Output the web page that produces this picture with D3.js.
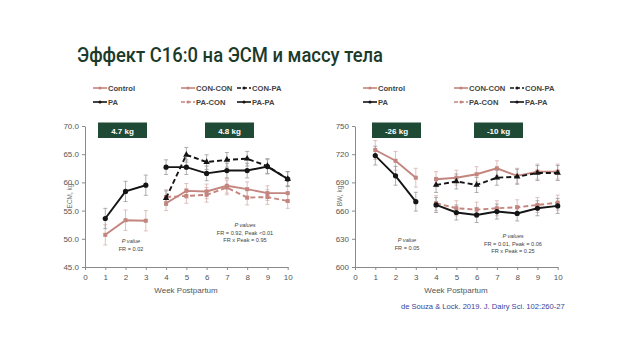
<!DOCTYPE html>
<html><head><meta charset="utf-8">
<script src="https://cdn.jsdelivr.net/npm/d3@7/dist/d3.min.js"></script>
<style>body{margin:0;background:#fff}svg{display:block}</style>
</head><body>
<svg id="c" width="640" height="360"></svg>
<script>
const weeksPre = [1, 2, 3];
const weeksPost = [4, 5, 6, 7, 8, 9, 10];
const xTicks = [0,1,2,3,4,5,6,7,8,9,10];

// ECM (kg)
const ecmTicks = [45, 50, 55, 60, 65, 70];
const ecmControl = [50.7, 53.3, 53.2];
const ecmPA = [53.6, 58.4, 59.5];
const ecmConCon = [56.3, 58.5, 58.4, 59.4, 58.8, 58.1, 58.1];
const ecmConPA = [57.2, 64.9, 63.6, 64.0, 64.2, 62.9, 60.6];
const ecmPACon = [57.4, 57.6, 57.8, 59.1, 57.3, 57.4, 56.7];
const ecmPAPA = [62.7, 62.7, 61.6, 62.1, 62.1, 62.8, 60.6];
const ecmErrPre = [1.8, 1.8, 1.8];
const ecmErrPost = [1.3, 1.3, 1.3, 1.3, 1.3, 1.3, 1.3];

// BW (kg)
const bwTicks = [600, 630, 660, 690, 720, 750];
const bwControl = [724.5, 713, 695];
const bwPA = [718.5, 697, 669.5];
const bwConCon = [693.4, 695, 698.7, 705, 697, 701.5, 701.5];
const bwConPA = [687.3, 691, 687.3, 695, 696, 700, 700];
const bwPACon = [668, 662.5, 661, 662.5, 663.5, 666, 668.5];
const bwPAPA = [666, 658, 655.4, 659, 657, 662.5, 665];
const bwErrPre = [10, 10, 10];
const bwErrPost = [8, 8, 8, 8, 8, 8, 8];

const labels = ["Control", "PA", "CON-CON", "CON-PA", "PA-CON", "PA-PA"];

const svg = d3.select("#c");
const PINK = "#c4857f", BLACK = "#151515", GREEN = "#1f4a35";

svg.append("text").attr("x", 77).attr("y", 62).attr("textLength", 306).attr("lengthAdjust","spacingAndGlyphs")
  .attr("font-family","Roboto, sans-serif").attr("font-weight",500).attr("font-size",21)
  .attr("fill","#1c3a2a").text("Эффект C16:0 на ЭСМ и массу тела");

function panel(o) {
  const g = svg.append("g");
  const x = d3.scaleLinear().domain([0,10]).range([o.x0, o.x0 + 202.7]);
  const y = d3.scaleLinear().domain(o.domain).range([267, 126]);
  const ax = g.append("g").attr("transform", `translate(0,267)`)
    .call(d3.axisBottom(x).tickValues(xTicks).tickSize(3).tickSizeOuter(0));
  const ay = g.append("g").attr("transform", `translate(${o.x0},0)`)
    .call(d3.axisLeft(y).tickValues(o.ticks).tickSize(3).tickSizeOuter(0).tickFormat(o.fmt));
  [ax, ay].forEach(a => {
    a.selectAll("path,line").attr("stroke","#8a8a8a");
    a.selectAll("text").attr("fill","#555").attr("font-family","Liberation Sans, Arial, sans-serif").attr("font-size",8);
  });
  ax.selectAll("text").attr("dy","0.9em");
  g.append("text").attr("transform",`translate(${o.x0-13},196) rotate(-90)`).attr("text-anchor","middle")
    .attr("font-family","Liberation Sans, Arial, sans-serif").attr("font-size",6.5).attr("fill","#777").text(o.ylab);
  g.append("text").attr("x", o.x0 + 101).attr("y", 293).attr("text-anchor","middle")
    .attr("font-family","Liberation Sans, Arial, sans-serif").attr("font-size",8).attr("fill","#555").text("Week Postpartum");

  const series = [
    {w: weeksPost, v: o.conCon, e: o.errPost, c: PINK, dash: null, m: "sq"},
    {w: weeksPost, v: o.paCon, e: o.errPost, c: PINK, dash: "5,3", m: "sq"},
    {w: weeksPost, v: o.conPA, e: o.errPost, c: BLACK, dash: "5,3", m: "tri"},
    {w: weeksPost, v: o.paPA, e: o.errPost, c: BLACK, dash: null, m: "dot"},
    {w: weeksPre, v: o.control, e: o.errPre, c: PINK, dash: null, m: "sq"},
    {w: weeksPre, v: o.pa, e: o.errPre, c: BLACK, dash: null, m: "dot"},
  ];
  const line = d3.line().x(d => x(d[0])).y(d => y(d[1]));
  series.forEach(s => {
    const pts = s.w.map((w,i) => [w, s.v[i], s.e[i]]);
    const ec = s.c === PINK ? "#d6b2ae" : "#9a9a9a";
    pts.forEach(p => {
      g.append("line").attr("x1",x(p[0])).attr("x2",x(p[0])).attr("y1",y(p[1]-p[2])).attr("y2",y(p[1]+p[2])).attr("stroke",ec).attr("stroke-width",0.8);
      [p[1]-p[2], p[1]+p[2]].forEach(v => g.append("line").attr("x1",x(p[0])-2).attr("x2",x(p[0])+2).attr("y1",y(v)).attr("y2",y(v)).attr("stroke",ec).attr("stroke-width",0.8));
    });
  });
  series.forEach(s => {
    const pts = s.w.map((w,i) => [w, s.v[i]]);
    g.append("path").attr("d", line(pts)).attr("fill","none").attr("stroke", s.c).attr("stroke-width",1.9)
      .attr("stroke-dasharray", s.dash);
    pts.forEach(p => {
      const cx = x(p[0]), cy = y(p[1]);
      if (s.m === "dot") g.append("circle").attr("cx",cx).attr("cy",cy).attr("r",2.6).attr("fill",s.c);
      else if (s.m === "tri") g.append("path").attr("d", d3.symbol(d3.symbolTriangle, 18)()).attr("transform",`translate(${cx},${cy})`).attr("fill",s.c);
      else g.append("rect").attr("x",cx-2).attr("y",cy-2).attr("width",4).attr("height",4).attr("fill",s.c);
    });
  });

  // legend
  const lg = [
    {t: labels[0], x: o.x0 + 8, y: 91, c: PINK, dash: null},
    {t: labels[1], x: o.x0 + 8, y: 105, c: BLACK, dash: null},
    {t: labels[2], x: o.lx2, y: 91, c: PINK, dash: null},
    {t: labels[3], x: o.lx2 + 56, y: 91, c: BLACK, dash: "4,2"},
    {t: labels[4], x: o.lx2, y: 105, c: PINK, dash: "4,2"},
    {t: labels[5], x: o.lx2 + 56, y: 105, c: BLACK, dash: null},
  ];
  lg.forEach(l => {
    g.append("line").attr("x1",l.x).attr("x2",l.x+14).attr("y1",l.y-3).attr("y2",l.y-3).attr("stroke",l.c).attr("stroke-width",1.6).attr("stroke-dasharray",l.dash);
    g.append("circle").attr("cx",l.x+7).attr("cy",l.y-3).attr("r",1.6).attr("fill",l.c);
    g.append("text").attr("x",l.x+15).attr("y",l.y).attr("font-family","Liberation Sans, Arial, sans-serif").attr("font-size",7.6).attr("font-weight","bold").attr("fill","#444").text(l.t);
  });

  // boxes
  o.boxes.forEach(b => {
    g.append("rect").attr("x",b.x).attr("y",122.5).attr("width",49).attr("height",15.5).attr("fill",GREEN);
    g.append("text").attr("x",b.x+24.5).attr("y",133.5).attr("text-anchor","middle").attr("font-family","Liberation Sans, Arial, sans-serif")
      .attr("font-size",8).attr("font-weight","bold").attr("fill","#fff").text(b.t);
  });

  // p-value notes
  o.notes.forEach(n => {
    n.lines.forEach((t,i) => {
      g.append("text").attr("x",n.x).attr("y",n.y + i*7.5).attr("text-anchor","middle").attr("font-family","Liberation Sans, Arial, sans-serif")
        .attr("font-size",5.6).attr("fill","#444").attr("font-style", i===0 ? "italic" : null).text(t);
    });
  });
}

panel({x0: 85, domain: [45,70], ticks: ecmTicks, fmt: d3.format(".1f"), ylab: "ECM, kg",
  control: ecmControl, pa: ecmPA, conCon: ecmConCon, conPA: ecmConPA, paCon: ecmPACon, paPA: ecmPAPA,
  errPre: ecmErrPre, errPost: ecmErrPost, lx2: 181,
  boxes: [{x: 98, t: "4.7 kg"}, {x: 205, t: "4.8 kg"}],
  notes: [{x: 131, y: 243, lines: ["P value", "FR = 0.02"]},
          {x: 245, y: 227, lines: ["P values", "FR = 0.92, Peak <0.01", "FR x Peak = 0.95"]}]});

panel({x0: 355, domain: [600,750], ticks: bwTicks, fmt: d3.format("d"), ylab: "BW, kg",
  control: bwControl, pa: bwPA, conCon: bwConCon, conPA: bwConPA, paCon: bwPACon, paPA: bwPAPA,
  errPre: bwErrPre, errPost: bwErrPost, lx2: 454,
  boxes: [{x: 372, t: "-26 kg"}, {x: 474, t: "-10 kg"}],
  notes: [{x: 407, y: 242, lines: ["P value", "FR = 0.05"]},
          {x: 513, y: 238, lines: ["P values", "FR = 0.01, Peak = 0.06", "FR x Peak = 0.25"]}]});

svg.append("text").attr("x",401).attr("y",309).attr("font-family","Liberation Sans, Arial, sans-serif").attr("font-size",7.6)
  .attr("fill","#3c3f9a").text("de Souza & Lock. 2019. J. Dairy Sci. 102:260-27");
</script>
</body></html>
